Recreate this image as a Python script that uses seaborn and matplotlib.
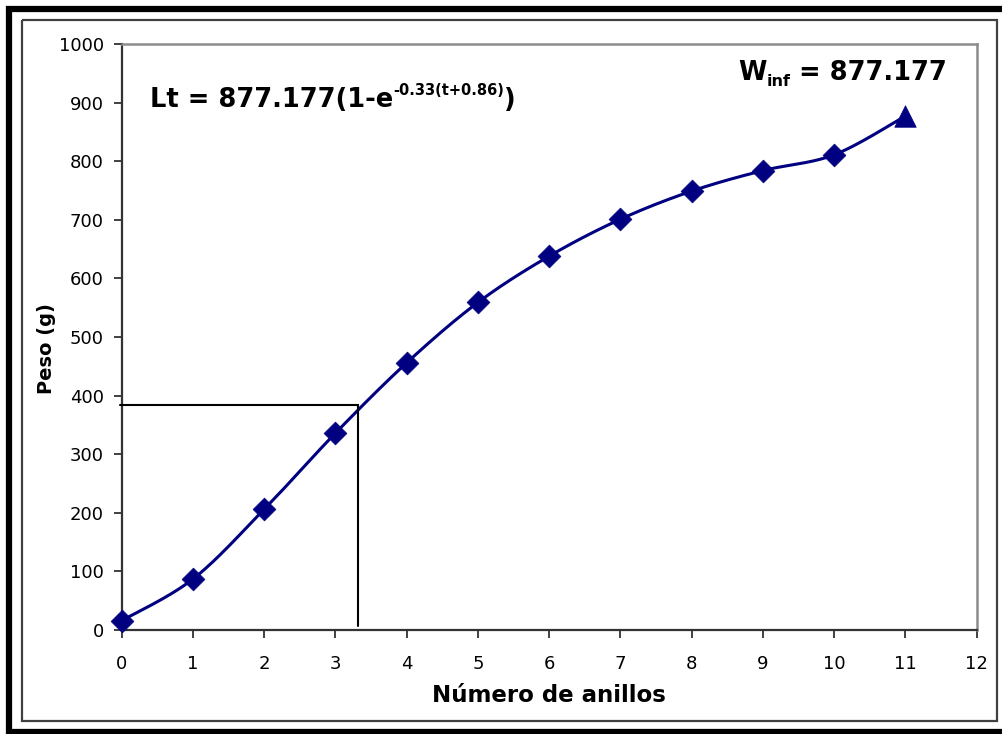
import numpy as np
import pandas as pd
import matplotlib
matplotlib.use("Agg")
import matplotlib.pyplot as plt
import matplotlib.transforms as mtransforms
from matplotlib.lines import Line2D
import seaborn as sns

# ---- data ----
rings = [0, 1, 2, 3, 4, 5, 6, 7, 8, 9, 10]
weight = [16, 87, 206, 336, 456, 559, 638, 701, 749, 784, 811]
winf_x = [11]
winf_y = [877.177]
ref_x = 3.32
ref_y = 384
x_ticks = list(range(0, 13))
y_ticks = list(range(0, 1001, 100))
eq_main = "Lt = 877.177(1-e"
eq_sup = "-0.33(t+0.86)"
eq_close = ")"
winf_main = "W"
winf_sub = "inf"
winf_rest = " = 877.177"

NAVY = "#000080"

sns.set_theme(style="white")
plt.rcParams["font.family"] = ["DejaVu Sans"]

W, H = 1002, 734
fig = plt.figure(figsize=(W / 100, H / 100), dpi=100)
ax = fig.add_axes([121.7 / W, (H - 630) / H, (976.7 - 121.7) / W, (630 - 44) / H])

# smooth curve (Catmull-Rom Bezier through all points, like Excel's smoothed line)
px = np.array(rings + winf_x, dtype=float)
py = np.array(weight + winf_y, dtype=float)
P = np.column_stack([px, py])
Pe = np.vstack([P[0], P, P[-1]])
sx, sy = [], []
tt = np.linspace(0, 1, 40)
nseg = len(Pe) - 3
for i in range(1, len(Pe) - 2):
    p0, p1, p2, p3 = Pe[i - 1], Pe[i], Pe[i + 1], Pe[i + 2]
    c1 = p1 + (p2 - p0) / 6.0
    c2 = p2 - (p3 - p1) / 6.0
    ts = tt if i == nseg else tt[:-1]
    for t in ts:
        b = ((1 - t) ** 3) * p1 + 3 * ((1 - t) ** 2) * t * c1 + 3 * (1 - t) * t * t * c2 + t ** 3 * p2
        sx.append(b[0]); sy.append(b[1])
smooth = pd.DataFrame({"x": sx, "y": sy})
sns.lineplot(data=smooth, x="x", y="y", ax=ax, color=NAVY, lw=2.2, sort=False, estimator=None)

pts = pd.DataFrame({"x": rings, "y": weight})
sns.scatterplot(data=pts, x="x", y="y", ax=ax, marker="D", s=135, color=NAVY,
                edgecolor=NAVY, linewidth=0.5, zorder=5, clip_on=False)
tri = pd.DataFrame({"x": winf_x, "y": winf_y})
sns.scatterplot(data=tri, x="x", y="y", ax=ax, marker="^", s=240, color=NAVY,
                edgecolor=NAVY, linewidth=0.5, zorder=5, clip_on=False)

# reference lines
ax.plot([-0.02, ref_x, ref_x], [ref_y, ref_y, 6], color="black", lw=1.5,
        clip_on=False, zorder=4, solid_joinstyle="miter")

ax.set_xlim(0, 12)
ax.set_ylim(0, 1000)
ax.set_xticks(x_ticks)
ax.set_yticks(y_ticks)
ax.set_xticklabels([str(v) for v in x_ticks])
ax.set_yticklabels([str(v) for v in y_ticks])
ax.tick_params(axis="both", which="major", direction="out", length=6, width=1.3,
               color="#333333", labelsize=13, labelcolor="black",
               bottom=True, left=True)
ax.tick_params(axis="y", pad=7)
ax.tick_params(axis="x", pad=12)
for s in ["left", "bottom"]:
    ax.spines[s].set_color("#333333")
    ax.spines[s].set_linewidth(1.6)
for s in ["top", "right"]:
    ax.spines[s].set_color("#8c8c8c")
    ax.spines[s].set_linewidth(1.8)

ax.set_xlabel("Número de anillos", fontsize=16.5, fontweight="bold", color="black")
ax.set_ylabel("Peso (g)", fontsize=14, fontweight="bold", color="black")
ax.xaxis.set_label_coords(0.5, (630 - 696) / 586)
ax.xaxis.label.set_va("center")
ax.yaxis.set_label_coords((46 - 121.7) / 855, (630 - 349) / 586)
ax.yaxis.label.set_va("center")

# texts composed of pieces in pixel coords
renderer = fig.canvas.get_renderer()
ident = mtransforms.IdentityTransform()


def pieces(x0, base_y, items):
    x = x0
    for txt, size, dy in items:
        t = fig.text(x, H - base_y + dy, txt, fontsize=size, fontweight="bold",
                     transform=ident, ha="left", va="baseline", color="black")
        bb = t.get_window_extent(renderer)
        x = bb.x1


pieces(150, 107, [(eq_main, 18.5, 0), (eq_sup, 10.5, 12), (eq_close, 18.5, 0)])
pieces(738, 80, [(winf_main, 18.5, 0), (winf_sub, 11.5, -6), (winf_rest, 18.5, 0)])

# frames
def fline(xs, ys, c, lw):
    fig.add_artist(Line2D(xs, [H - y for y in ys], transform=ident, color=c, lw=lw,
                          solid_capstyle="butt", solid_joinstyle="miter"))

fline([22, 997, 997, 22, 22], [20, 20, 721, 721, 20], "#404040", 1.6)
fline([9, 9, 1002], [734, 8.5, 8.5], "black", 4.5)
fline([6, 1002], [731.5, 731.5], "black", 4.5)

fig.savefig("out.png", dpi=100)
